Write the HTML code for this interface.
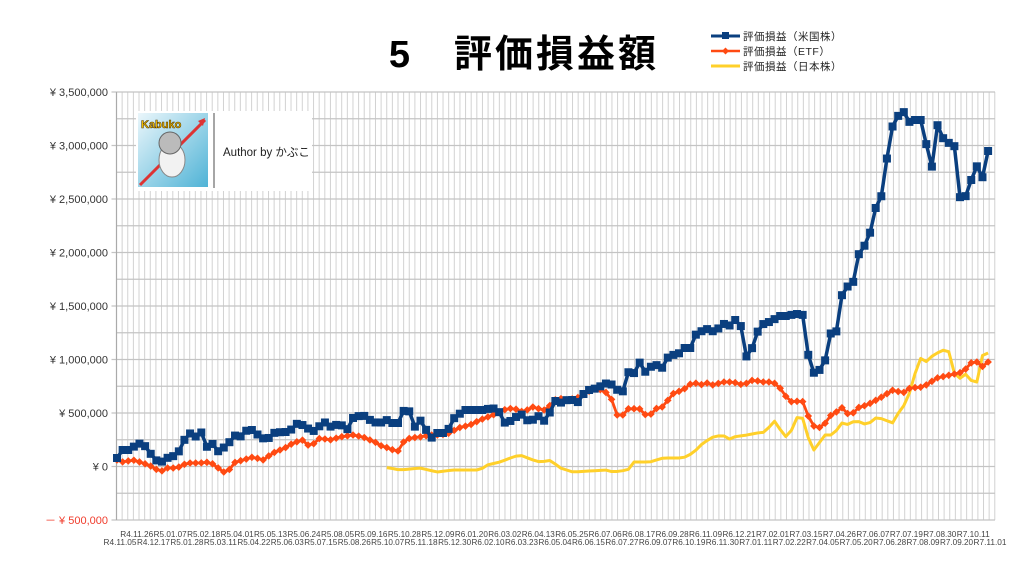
<!DOCTYPE html>
<html><head><meta charset="utf-8"><style>
html,body{margin:0;padding:0;background:#fff;}
body{width:1024px;height:570px;overflow:hidden;position:relative;font-family:"Liberation Sans","Noto Sans CJK JP",sans-serif;}
</style></head><body>
<svg id="s" width="1024" height="570" xmlns="http://www.w3.org/2000/svg" style="position:absolute;left:0;top:0">
<g id="grid"></g>
<g id="lab" font-family="Liberation Sans, Noto Sans CJK JP, sans-serif"></g>
<g id="ser"></g>
<text x="524" y="67" text-anchor="middle" font-size="38" font-weight="bold" font-family="Liberation Sans, Noto Sans CJK JP, sans-serif" fill="#000" letter-spacing="3">5　評価損益額</text>
<g font-size="10.5" font-family="Liberation Sans, Noto Sans CJK JP, sans-serif" fill="#222" letter-spacing="0.5">
<line x1="711" y1="36" x2="740" y2="36" stroke="#0a3f7f" stroke-width="3"/><rect x="722" y="32" width="7" height="7" fill="#0a3f7f"/>
<text x="743" y="40">評価損益（米国株）</text>
<line x1="711" y1="51" x2="740" y2="51" stroke="#ff4a12" stroke-width="2.5"/><path d="M725.5 47.5 L729 51 L725.5 54.5 L722 51Z" fill="#ff4a12"/>
<text x="743" y="55">評価損益（ETF）</text>
<line x1="711" y1="66" x2="740" y2="66" stroke="#ffd02a" stroke-width="3"/>
<text x="743" y="70">評価損益（日本株）</text>
</g>
<rect x="136" y="111" width="176" height="80" fill="#fff"/>
<defs><linearGradient id="bg" x1="0" y1="0" x2="1" y2="1"><stop offset="0" stop-color="#eaf6fb"/><stop offset="1" stop-color="#4fb3d6"/></linearGradient></defs>
<rect x="138" y="113" width="70" height="74" fill="url(#bg)"/>
<line x1="140" y1="185" x2="205" y2="120" stroke="#d33" stroke-width="3"/>
<path d="M205 118 L198 121 L203 126Z" fill="#d33"/>
<ellipse cx="172" cy="160" rx="13" ry="17" fill="#f2f2f2" stroke="#888"/>
<circle cx="170" cy="143" r="11" fill="#bbb" stroke="#666"/>
<text x="141" y="128" font-size="11" font-weight="bold" fill="#f5c200" stroke="#5a3b00" stroke-width="0.6" font-family="Liberation Sans, sans-serif">Kabuko</text>
<line x1="214" y1="113" x2="214" y2="188" stroke="#888" stroke-width="1.5"/>
<text x="223" y="156" font-size="11.5" fill="#222" font-family="Liberation Sans, Noto Sans CJK JP, sans-serif">Author by かぶこ</text>
</svg>
<script>
(function(){
const NS="http://www.w3.org/2000/svg";
function el(p,t,a,txt){const e=document.createElementNS(NS,t);for(const k in a)e.setAttribute(k,a[k]);if(txt!==undefined)e.textContent=txt;p.appendChild(e);return e;}
const grid=document.getElementById('grid'),lab=document.getElementById('lab'),ser=document.getElementById('ser');
const L=116.5,R=995,T=92,B=520,X0=117,DX=5.62;
for(let x=L;x<=R+0.1;x+=5.63)el(grid,'line',{x1:x,y1:T,x2:x,y2:B,stroke:'#d2d2d2','stroke-width':1});
for(let i=0;i<=16;i++){const y=T+i*(B-T)/16;el(grid,'line',{x1:L-(i%2?0:5),y1:y,x2:R,y2:y,stroke:'#c4c4c4','stroke-width':1.2});}
el(grid,'line',{x1:L,y1:T,x2:L,y2:B,stroke:'#aaa','stroke-width':1.2});
const yl=['¥ 3,500,000','¥ 3,000,000','¥ 2,500,000','¥ 2,000,000','¥ 1,500,000','¥ 1,000,000','¥ 500,000','¥ 0','－ ¥ 500,000'];
yl.forEach((t,i)=>{el(lab,'text',{x:108,y:T+i*53.5+4,'text-anchor':'end','font-size':11,fill:i==8?'#f03c2c':'#333'},t);});
const topL=['R4.11.26','R5.01.07','R5.02.18','R5.04.01','R5.05.13','R5.06.24','R5.08.05','R5.09.16','R5.10.28','R5.12.09','R6.01.20','R6.03.02','R6.04.13','R6.05.25','R6.07.06','R6.08.17','R6.09.28','R6.11.09','R6.12.21','R7.02.01','R7.03.15','R7.04.26','R7.06.07','R7.07.19','R7.08.30','R7.10.11'];
const botL=['R4.11.05','R4.12.17','R5.01.28','R5.03.11','R5.04.22','R5.06.03','R5.07.15','R5.08.26','R5.10.07','R5.11.18','R5.12.30','R6.02.10','R6.03.23','R6.05.04','R6.06.15','R6.07.27','R6.09.07','R6.10.19','R6.11.30','R7.01.11','R7.02.22','R7.04.05','R7.05.20','R7.06.28','R7.08.09','R7.09.20','R7.11.01'];
const sp=(987-X0)/52;
topL.forEach((t,i)=>el(lab,'text',{x:X0+sp*(2*i+1)+3,y:537,'text-anchor':'middle','font-size':8,fill:'#444',textLength:33,lengthAdjust:'spacingAndGlyphs'},t));
botL.forEach((t,i)=>el(lab,'text',{x:X0+sp*(2*i)+3,y:545,'text-anchor':'middle','font-size':8,fill:'#444',textLength:33,lengthAdjust:'spacingAndGlyphs'},t));
function P(s){return s.trim().split(/\s+/).map(p=>p.split(',').map(Number));}
const blue=P(`117,458 122,450 130,450 138,443 147,447 153,458 160,463 167,458 177,455 183,443 188,432 195,437 202,432 207,447 212,443 217,452 223,448 228,445 233,435 240,437 247,430 253,430 260,437 267,440 273,433 282,432 290,432 295,422 300,427 305,423 310,432 317,430 322,422 328,423 333,430 338,422 347,430 353,418 362,415 367,417 372,422 380,423 387,420 392,423 398,423 402,412 408,408 415,427 420,420 425,427 430,440 435,433 447,433 452,420 458,415 465,410 473,410 483,410 492,408 498,410 505,423 513,420 520,413 530,423 537,415 547,423 553,400 560,403 567,400 573,400 580,403 585,390 590,390 597,388 607,383 613,385 620,393 625,390 628,372 633,375 640,362 645,372 650,367 657,365 662,368 667,358 673,355 680,353 683,348 692,348 695,335 700,333 705,327 710,332 717,330 723,323 728,328 733,320 740,320 745,357 750,355 753,345 760,325 767,323 773,320 780,316 790,316 795,312 800,317 805,313 811,390 816,360 822,377 828,345 833,324 838,335 844,275 849,291 855,278 860,247 867,245 872,225 877,202 883,194 887,158 893,124 898,116 904,112 909,122 915,120 922,120 926,143 932,167 937,124 943,138 948,145 953,131 959,197 965,198 970,183 977,166 982,180 987,151`);
const orange=P(`117,460 123,462 133,460 143,463 153,467 160,472 167,468 177,468 187,463 200,463 210,462 217,467 223,472 228,472 233,463 243,460 253,457 263,460 273,453 287,447 293,443 303,440 310,447 320,438 330,440 340,437 353,435 363,437 377,443 383,447 390,448 397,453 402,443 410,438 420,437 430,435 440,435 450,433 458,428 470,425 480,420 493,415 503,410 513,408 523,412 533,407 543,410 547,410 552,402 558,398 567,400 577,398 587,392 597,388 607,393 612,400 617,415 623,415 630,407 637,410 642,408 647,418 653,412 658,407 665,407 670,395 677,392 683,390 693,382 700,385 707,383 713,385 723,382 733,382 743,385 753,380 763,382 773,382 780,388 787,398 793,403 800,400 805,403 811,427 817,425 822,430 828,417 835,413 843,407 850,417 857,408 867,405 880,398 893,390 903,393 910,388 923,387 937,378 950,375 963,372 972,362 978,362 983,367 988,362`);
const yellow=P(`382,467 390,468 400,470 420,468 437,472 453,470 467,470 480,470 487,465 500,462 513,457 520,455 533,460 540,462 553,460 557,467 573,472 607,470 613,472 628,470 633,462 650,462 663,458 683,458 693,453 703,443 713,437 723,435 728,440 733,437 747,435 757,433 767,432 772,420 778,423 782,435 787,437 793,428 800,410 807,432 811,450 817,450 822,435 833,435 842,423 850,425 855,420 867,425 877,417 893,423 900,410 907,402 913,380 920,358 927,362 933,355 948,348 953,372 962,380 967,372 972,382 977,382 983,353 988,353`);
function interp(pts,x){if(x<pts[0][0]-0.5||x>pts[pts.length-1][0]+1.5)return null;for(let i=0;i<pts.length-1;i++){if(x>=pts[i][0]&&x<=pts[i+1][0]){const t=(x-pts[i][0])/(pts[i+1][0]-pts[i][0]||1);return pts[i][1]+t*(pts[i+1][1]-pts[i][1]);}}return x<pts[0][0]?pts[0][1]:pts[pts.length-1][1];}
function samples(pts){const o=[];for(let i=0;i<=155;i++){const x=X0+DX*i;const y=interp(pts,x);if(y!==null)o.push([x,y]);}return o;}
function draw(pts,col,w,mk,m){const s=samples(pts);el(ser,'polyline',{points:s.map(p=>p.join(',')).join(' '),fill:'none',stroke:col,'stroke-width':w,'stroke-linejoin':'round'});
 if(mk=='sq')s.forEach(p=>el(ser,'rect',{x:p[0]-m,y:p[1]-m,width:2*m,height:2*m,fill:col}));
 if(mk=='di')s.forEach(p=>el(ser,'path',{d:`M${p[0]} ${p[1]-m}L${p[0]+m} ${p[1]}L${p[0]} ${p[1]+m}L${p[0]-m} ${p[1]}Z`,fill:col}));}
draw(yellow,'#ffd02a',3,null,0);
draw(orange,'#ff4a12',2.8,'di',3.8);
draw(blue,'#0a3f7f',3.5,'sq',4);
})();
</script>
</body></html>
